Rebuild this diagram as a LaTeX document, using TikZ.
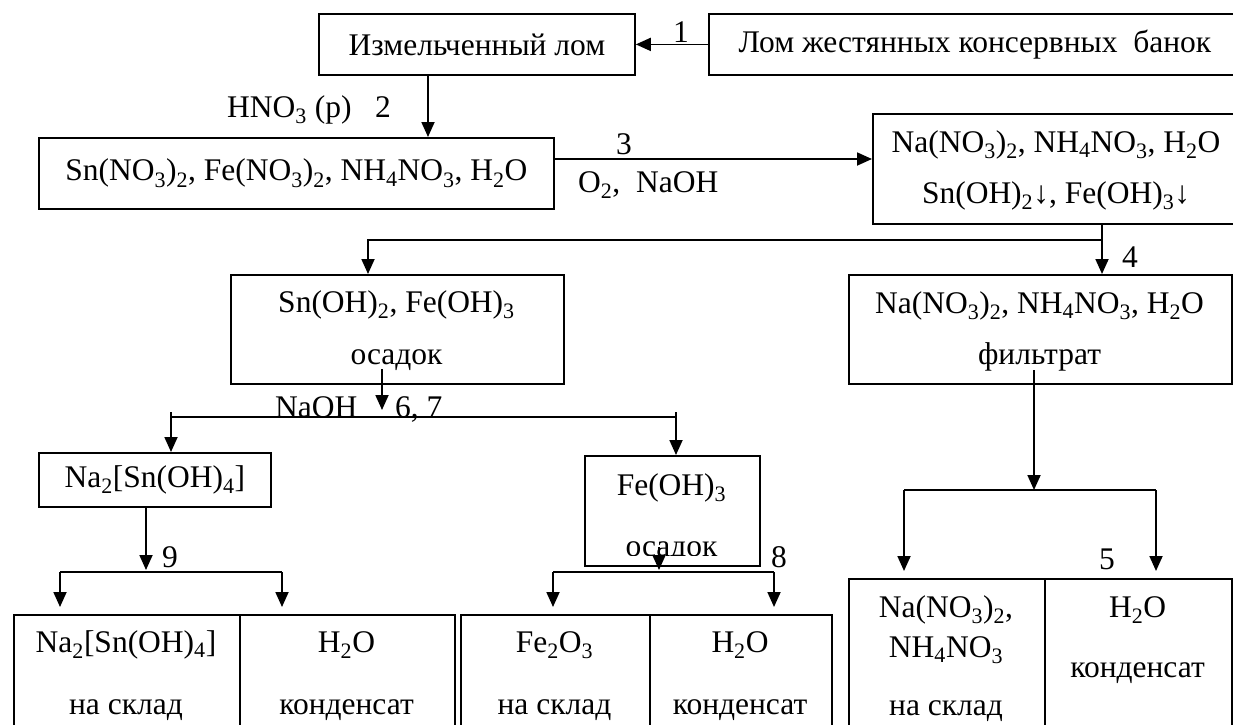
\documentclass[tikz,border=0pt]{standalone}
\usepackage{fontspec}
\setmainfont{Liberation Serif}
\usetikzlibrary{arrows.meta}
\newcommand\chsub[1]{\textsubscript{#1}}
\begin{document}
\begin{tikzpicture}[x=1pt,y=-1pt,
  box/.style={draw, line width=1.8pt, inner sep=0pt, anchor=north west},
  arr/.style={-{Triangle[length=15pt,width=13pt]}, line width=1.8pt},
  ln/.style={line width=1.8pt},
  lbl/.style={inner sep=0pt, anchor=base},
  lblw/.style={inner sep=0pt, anchor=base west},
  every node/.append style={font=\fontsize{31.5}{37}\selectfont}]
\useasboundingbox (0,0) rectangle (1233,724);
\clip (0,0) rectangle (1233,724);

% boxes
\node[box, minimum width=316, minimum height=61] (lom) at (318,13) {Измельченный лом};
\node[box, minimum width=532, minimum height=61] (scrap) at (708,13) {Лом жестянных консервных\ \ банок};
\node[box, minimum width=515, minimum height=71] (snno) at (38,137)
  {Sn(NO\chsub3)\chsub2, Fe(NO\chsub3)\chsub2, NH\chsub4NO\chsub3, H\chsub2O};
\node[box, minimum width=368, minimum height=110] (na1) at (872,113) {};
\node[lbl] (na1a) at (1056,152) {Na(NO\chsub3)\chsub2, NH\chsub4NO\chsub3, H\chsub2O};
\node[lbl] (na1b) at (1056,203) {Sn(OH)\chsub2↓, Fe(OH)\chsub3↓};

\node[box, minimum width=333, minimum height=109] (snoh) at (230,274) {};
\node[lbl] (snoha) at (396.5,312) {Sn(OH)\chsub2, Fe(OH)\chsub3};
\node[lbl] (snohb) at (396.5,364) {осадок};

\node[box, minimum width=383, minimum height=109] (na2) at (848,274) {};
\node[lbl] (na2a) at (1039.5,313) {Na(NO\chsub3)\chsub2, NH\chsub4NO\chsub3, H\chsub2O};
\node[lbl] (na2b) at (1039.5,364) {фильтрат};

\node[box, minimum width=232, minimum height=54] (nasn) at (38,452) {Na\chsub2[Sn(OH)\chsub4]};

\node[box, minimum width=175, minimum height=110] (feoh) at (584,455) {};
\node[lbl] (feoha) at (671.5,495) {Fe(OH)\chsub3};
\begin{scope}
  \clip (584,520) rectangle (759,555);
  \node[lbl] (feohb) at (671.5,556) {осадок};
\end{scope}

% bottom boxes
\node[box, minimum width=226, minimum height=140] (bl1) at (13,614) {};
\node[box, minimum width=215, minimum height=140] (bl2) at (239,614) {};
\node[box, minimum width=189, minimum height=140] (bm1) at (460,614) {};
\node[box, minimum width=182, minimum height=140] (bm2) at (649,614) {};
\node[box, minimum width=196, minimum height=170] (br1) at (848,578) {};
\node[box, minimum width=187, minimum height=170] (br2) at (1044,578) {};

\node[lbl] (bl1a) at (126,652) {Na\chsub2[Sn(OH)\chsub4]};
\node[lbl] (bl1b) at (126,714) {на склад};
\node[lbl] (bl2a) at (346.5,652) {H\chsub2O};
\node[lbl] (bl2b) at (346.5,714) {конденсат};
\node[lbl] (bm1a) at (554.5,652) {Fe\chsub2O\chsub3};
\node[lbl] (bm1b) at (554.5,714) {на склад};
\node[lbl] (bm2a) at (740,652) {H\chsub2O};
\node[lbl] (bm2b) at (740,714) {конденсат};
\node[lbl] (br1a) at (946,617) {Na(NO\chsub3)\chsub2,};
\node[lbl] (br1b) at (946,657) {NH\chsub4NO\chsub3};
\node[lbl] (br1c) at (946,715) {на склад};
\node[lbl] (br2a) at (1137.5,617) {H\chsub2O};
\node[lbl] (br2b) at (1137.5,677) {конденсат};

% coordinates
\coordinate (x2) at (428,0);
\coordinate (y3) at (0,159);
\coordinate (x4) at (1102,0);
\coordinate (j4) at (1102,240);
\coordinate (k4) at (368,240);
\coordinate (f0) at (1034,370);
\coordinate (f1) at (1034,490);
\coordinate (f1l) at (904,490);
\coordinate (f1r) at (1156,490);
\coordinate (s0) at (382,369);
\coordinate (s1) at (382,410);
\coordinate (h6l) at (171,417);
\coordinate (h6r) at (676,417);
\coordinate (b6l) at (171,412);
\coordinate (b6r) at (676,412);
\coordinate (x9) at (146,0);
\coordinate (a9) at (146,570);
\coordinate (h9l) at (60,572);
\coordinate (h9r) at (282,572);
\coordinate (e0) at (659,547);
\coordinate (e1) at (659,570);
\coordinate (h8l) at (553,572);
\coordinate (h8r) at (774,572);

% connectors
\draw[arr] (scrap.west) -- (lom.east);
\node[lbl] (l1) at (681,42) {1};

\draw[arr] (lom.south -| x2) -- (snno.north -| x2);
\node[lblw] (l2) at (227,117) {HNO\chsub3 (р)\ \ \ 2};

\draw[arr] (snno.east |- y3) -- (na1.west |- y3);
\node[lbl] (l3) at (624,154) {3};
\node[lblw] (l3b) at (578,192) {O\chsub2,\ \ NaOH};

\draw[arr] (na1.south -| x4) -- (na2.north -| x4);
\draw[arr] (j4) -- (k4) -- (snoh.north -| k4);
\node[lblw] (l4) at (1122,267) {4};

\draw[arr] (f0) -- (f1);
\draw[ln] (f1l) -- (f1r);
\draw[arr, shorten >=7pt] (f1l) -- (br1.north -| f1l);
\draw[arr, shorten >=7pt] (f1r) -- (br2.north -| f1r);
\node[lblw] (l5) at (1099,569) {5};

\draw[arr] (s0) -- (s1);
\draw[ln] (h6l) -- (h6r);
\draw[arr] (b6l) -- (nasn.north -| b6l);
\draw[arr] (b6r) -- (feoh.north -| b6r);
\node[lblw] (l6a) at (275,417) {NaOH};
\node[lblw] (l6b) at (395,417) {6, 7};

\draw[arr] (nasn.south -| x9) -- (a9);
\draw[ln] (h9l) -- (h9r);
\draw[arr, shorten >=7pt] (h9l) -- (bl1.north -| h9l);
\draw[arr, shorten >=7pt] (h9r) -- (bl2.north -| h9r);
\node[lblw] (l9) at (162,567) {9};

\draw[arr] (e0) -- (e1);
\draw[ln] (h8l) -- (h8r);
\draw[arr, shorten >=7pt] (h8l) -- (bm1.north -| h8l);
\draw[arr, shorten >=7pt] (h8r) -- (bm2.north -| h8r);
\node[lblw] (l8) at (771,567) {8};
\end{tikzpicture}
\end{document}
